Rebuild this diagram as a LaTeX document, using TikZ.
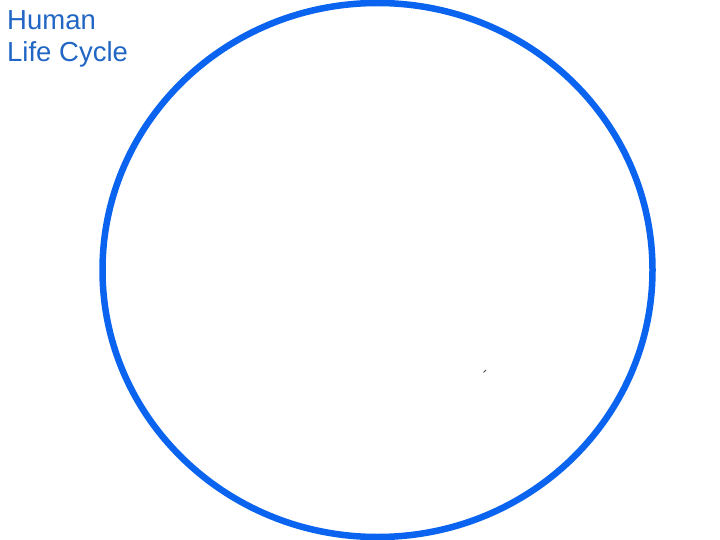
\documentclass[tikz,border=0pt]{standalone}
\usepackage{fontspec}
\setmainfont{Liberation Sans}
\definecolor{ringblue}{HTML}{0A64F0}
\definecolor{textblue}{HTML}{2166C4}
\begin{document}
\begin{tikzpicture}[x=1pt,y=-1pt,
  ring/.style={draw=ringblue,line width=6.5pt},
  titletext/.style={text=textblue,font=\fontsize{27.5}{32}\selectfont,anchor=north west,inner sep=0pt,align=left}]
\useasboundingbox[fill=white] (0,0) rectangle (720,540);
\draw[ring] (377.5,270) ellipse [x radius=275, y radius=267];
\node[titletext] (title) at (7,10.5) {Human\\Life Cycle};
\coordinate (m1) at (483.5,372.5);
\coordinate (m2) at (486,370);
\draw[black!70,line width=0.8pt] (m1) -- (m2);
\end{tikzpicture}
\end{document}
